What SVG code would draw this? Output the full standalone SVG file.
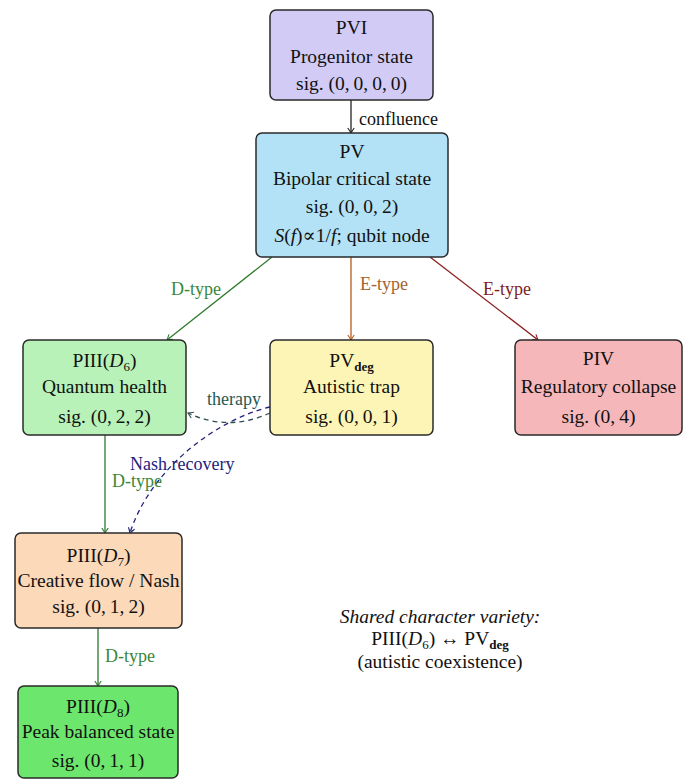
<svg xmlns="http://www.w3.org/2000/svg" width="692" height="781" viewBox="0 0 692 781">
<defs>
<style>
text{font-family:"Liberation Serif","DejaVu Serif",serif;fill:#111;}
.n{font-size:19.5px;text-anchor:middle;}
.lbl{font-size:18px;}
.box{stroke:#2a2a2a;stroke-width:1.5;}
.e{fill:none;stroke-width:1.3;}
.i{font-style:italic;}
.sub{font-size:13px;}
</style>
<marker id="ak" viewBox="-6 -4 7 8" refX="0" refY="0" markerWidth="7" markerHeight="8" markerUnits="userSpaceOnUse" orient="auto"><path d="M-5,-3.2 Q-1.5,-0.8 0,0 Q-1.5,0.8 -5,3.2" fill="none" stroke="#222" stroke-width="1.1"/></marker>
<marker id="ag" viewBox="-6 -4 7 8" refX="0" refY="0" markerWidth="7" markerHeight="8" markerUnits="userSpaceOnUse" orient="auto"><path d="M-5,-3.2 Q-1.5,-0.8 0,0 Q-1.5,0.8 -5,3.2" fill="none" stroke="#2d7a2d" stroke-width="1.1"/></marker>
<marker id="ao" viewBox="-6 -4 7 8" refX="0" refY="0" markerWidth="7" markerHeight="8" markerUnits="userSpaceOnUse" orient="auto"><path d="M-5,-3.2 Q-1.5,-0.8 0,0 Q-1.5,0.8 -5,3.2" fill="none" stroke="#b85c1a" stroke-width="1.1"/></marker>
<marker id="ar" viewBox="-6 -4 7 8" refX="0" refY="0" markerWidth="7" markerHeight="8" markerUnits="userSpaceOnUse" orient="auto"><path d="M-5,-3.2 Q-1.5,-0.8 0,0 Q-1.5,0.8 -5,3.2" fill="none" stroke="#8b1e1e" stroke-width="1.1"/></marker>
<marker id="at" viewBox="-6 -4 7 8" refX="0" refY="0" markerWidth="7" markerHeight="8" markerUnits="userSpaceOnUse" orient="auto"><path d="M-5,-3.2 Q-1.5,-0.8 0,0 Q-1.5,0.8 -5,3.2" fill="none" stroke="#2f4f4f" stroke-width="1.1"/></marker>
<marker id="an" viewBox="-6 -4 7 8" refX="0" refY="0" markerWidth="7" markerHeight="8" markerUnits="userSpaceOnUse" orient="auto"><path d="M-5,-3.2 Q-1.5,-0.8 0,0 Q-1.5,0.8 -5,3.2" fill="none" stroke="#23237a" stroke-width="1.1"/></marker>
</defs>
<rect width="692" height="781" fill="#ffffff"/>

<g id="connectors">
<path class="e" d="M351,100 L351,133" stroke="#222" marker-end="url(#ak)"/>
<text class="lbl" x="359" y="125">confluence</text>
<path class="e" d="M272,257 L167,340" stroke="#2d7a2d" marker-end="url(#ag)"/>
<text class="lbl" x="196" y="295" text-anchor="middle" style="fill:#3a873a">D-type</text>
<path class="e" d="M351,257 L351,340" stroke="#b85c1a" marker-end="url(#ao)"/>
<text class="lbl" x="360" y="290" style="fill:#a8622c">E-type</text>
<path class="e" d="M430,257 L538,340" stroke="#8b1e1e" marker-end="url(#ar)"/>
<text class="lbl" x="483" y="295" style="fill:#7e2222">E-type</text>
<path class="e" d="M270,413 Q228,432 188,413" stroke="#2f4f4f" stroke-dasharray="5,4" marker-end="url(#at)"/>
<text class="lbl" x="207" y="405" style="fill:#1f5a55">therapy</text>
<path class="e" d="M270,407 C215,420 150,470 130,533" stroke="#23237a" stroke-dasharray="5,4" marker-end="url(#an)"/>
<text class="lbl" x="130" y="470" style="fill:#23237a">Nash recovery</text>
<path class="e" d="M105,435 L105,533" stroke="#2d7a2d" marker-end="url(#ag)"/>
<text class="lbl" x="112" y="487" style="fill:#3a873a">D-type</text>
<path class="e" d="M98,628 L98,686" stroke="#2d7a2d" marker-end="url(#ag)"/>
<text class="lbl" x="105" y="662" style="fill:#3a873a">D-type</text>
</g>

<g id="PVI">
<rect class="box" x="270" y="10" width="163" height="90" rx="6" fill="#d2cbf6"/>
<text class="n" x="351.5" y="34">PVI</text>
<text class="n" x="351.5" y="63">Progenitor state</text>
<text class="n" x="351.5" y="90">sig. (0,&#8201;0,&#8201;0,&#8201;0)</text>
</g>

<g id="PV">
<rect class="box" x="256" y="133" width="192" height="124" rx="6" fill="#b3e1f5"/>
<text class="n" x="352" y="158">PV</text>
<text class="n" x="352" y="185">Bipolar critical state</text>
<text class="n" x="352" y="213">sig. (0,&#8201;0,&#8201;2)</text>
<text class="n" x="352" y="242"><tspan class="i">S</tspan>(<tspan class="i">f</tspan>)∝1/<tspan class="i">f</tspan>; qubit node</text>
</g>

<g id="PIII_D6">
<rect class="box" x="23" y="340" width="163" height="95" rx="6" fill="#b8f2b8"/>
<text class="n" x="104.5" y="367">PIII(<tspan class="i">D</tspan><tspan class="sub" dy="4">6</tspan><tspan dy="-4">)</tspan></text>
<text class="n" x="104.5" y="393">Quantum health</text>
<text class="n" x="104.5" y="423">sig. (0,&#8201;2,&#8201;2)</text>
</g>

<g id="PV_deg">
<rect class="box" x="270" y="340" width="163" height="95" rx="6" fill="#fdf5b6"/>
<text class="n" x="351.5" y="367">PV<tspan class="sub" font-weight="bold" dy="4">deg</tspan></text>
<text class="n" x="351.5" y="393">Autistic trap</text>
<text class="n" x="351.5" y="423">sig. (0,&#8201;0,&#8201;1)</text>
</g>

<g id="PIV">
<rect class="box" x="515" y="340" width="167" height="95" rx="6" fill="#f5b7ba"/>
<text class="n" x="598.5" y="365">PIV</text>
<text class="n" x="598.5" y="393">Regulatory collapse</text>
<text class="n" x="598.5" y="423">sig. (0,&#8201;4)</text>
</g>

<g id="PIII_D7">
<rect class="box" x="15" y="533" width="167" height="95" rx="6" fill="#fcd9b9"/>
<text class="n" x="98.5" y="562">PIII(<tspan class="i">D</tspan><tspan class="sub" dy="4">7</tspan><tspan dy="-4">)</tspan></text>
<text class="n" x="98.5" y="587">Creative flow / Nash</text>
<text class="n" x="98.5" y="613">sig. (0,&#8201;1,&#8201;2)</text>
</g>

<g id="PIII_D8">
<rect class="box" x="18" y="686" width="160" height="92" rx="6" fill="#6ce66c"/>
<text class="n" x="98" y="713">PIII(<tspan class="i">D</tspan><tspan class="sub" dy="4">8</tspan><tspan dy="-4">)</tspan></text>
<text class="n" x="98" y="738">Peak balanced state</text>
<text class="n" x="98" y="767">sig. (0,&#8201;1,&#8201;1)</text>
</g>

<g id="note">
<text class="n i" x="440" y="623">Shared character variety:</text>
<text class="n" x="440" y="645">PIII(<tspan class="i">D</tspan><tspan class="sub" dy="4">6</tspan><tspan dy="-4">) ↔ PV</tspan><tspan class="sub" font-weight="bold" dy="4">deg</tspan></text>
<text class="n" x="440" y="668">(autistic coexistence)</text>
</g>
</svg>
